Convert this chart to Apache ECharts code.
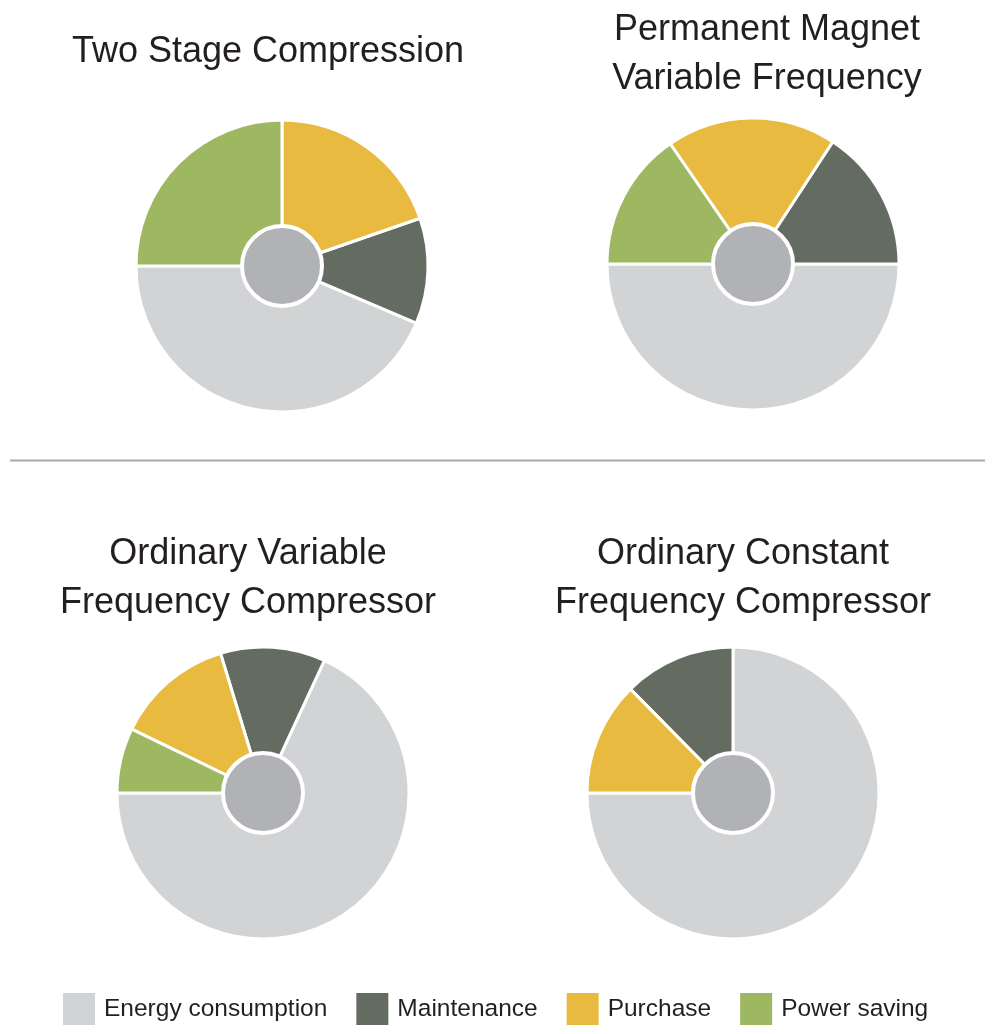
<!DOCTYPE html>
<html>
<head>
<meta charset="utf-8">
<script src="https://cdn.jsdelivr.net/npm/echarts@6/dist/echarts.min.js"></script>
<style>
  html, body { margin: 0; padding: 0; background: #ffffff; }
  #mycharts { width: 1000px; height: 1034px; }
</style>
</head>
<body>
<div id="mycharts"></div>
<script>
// 分类 (same order for every pie, drawn counter-clockwise from 9 o'clock)
var categories = ['Energy consumption', 'Maintenance', 'Purchase', 'Power saving'];

// share of each category, in percent
var twoStage = [43.6, 11.7, 19.7, 25];
var permanentMagnet = [50, 15.8, 18.8, 15.4];
var ordinaryVariable = [68.1, 11.6, 13.1, 7.2];
var ordinaryConstant = [75, 12.4, 12.6, 0];

var titles = [
    'Two Stage Compression',
    'Permanent Magnet\nVariable Frequency',
    'Ordinary Variable\nFrequency Compressor',
    'Ordinary Constant\nFrequency Compressor'
];

var colors = {
    'Energy consumption': '#d1d3d4',
    'Maintenance': '#646c62',
    'Purchase': '#e8bb40',
    'Power saving': '#9eb862'
};
var textColor = '#231f20';
var fontFamily = '"Liberation Sans", Arial, sans-serif';

var myChart = echarts.init(document.getElementById('mycharts'));

function buildData(values) {
    var out = [];
    for (var i = 0; i < categories.length; i++) {
        if (!values[i]) continue;
        out.push({
            name: categories[i],
            value: values[i],
            itemStyle: { color: colors[categories[i]] }
        });
    }
    return out;
}

function titleAt(text, x, y) {
    return {
        text: text,
        left: x,
        top: y,
        padding: 0,
        textAlign: 'center',
        textVerticalAlign: 'middle',
        textStyle: {
            fontFamily: fontFamily,
            fontSize: 36,
            fontWeight: 'normal',
            color: textColor,
            lineHeight: 49
        }
    };
}

function piePair(values, cx, cy) {
    return [{
        type: 'pie',
        center: [cx, cy],
        radius: [0, 146],
        startAngle: 180,
        clockwise: false,
        label: { show: false },
        labelLine: { show: false },
        emphasis: { scale: false },
        itemStyle: { borderColor: '#ffffff', borderWidth: 3 },
        data: buildData(values)
    }, {
        // grey hub in the middle
        type: 'pie',
        center: [cx, cy],
        radius: [0, 40],
        z: 3,
        silent: true,
        label: { show: false },
        labelLine: { show: false },
        itemStyle: { color: '#b1b2b6', borderColor: '#ffffff', borderWidth: 4 },
        data: [{ value: 1, name: '' }]
    }];
}

var series = []
    .concat(piePair(twoStage, 282, 266))
    .concat(piePair(permanentMagnet, 753, 264))
    .concat(piePair(ordinaryVariable, 263, 793))
    .concat(piePair(ordinaryConstant, 733, 793));

var option = {
    backgroundColor: '#ffffff',
    animation: false,
    title: [
        titleAt(titles[0], 268, 52),
        titleAt(titles[1], 767, 55),
        titleAt(titles[2], 248, 579),
        titleAt(titles[3], 743, 579)
    ],
    legend: {
        data: categories,
        left: 63,
        top: 993,
        padding: 0,
        itemWidth: 32,
        itemHeight: 32,
        itemGap: 29,
        icon: 'rect',
        itemStyle: { borderWidth: 0 },
        textStyle: {
            fontFamily: fontFamily,
            fontSize: 24.5,
            color: textColor,
            padding: [6, 0, 0, 4]
        }
    },
    graphic: [{
        type: 'line',
        shape: { x1: 10, y1: 460.5, x2: 985, y2: 460.5 },
        style: { stroke: '#a7a9ac', lineWidth: 2 }
    }],
    series: series
};

myChart.setOption(option);
</script>
</body>
</html>
